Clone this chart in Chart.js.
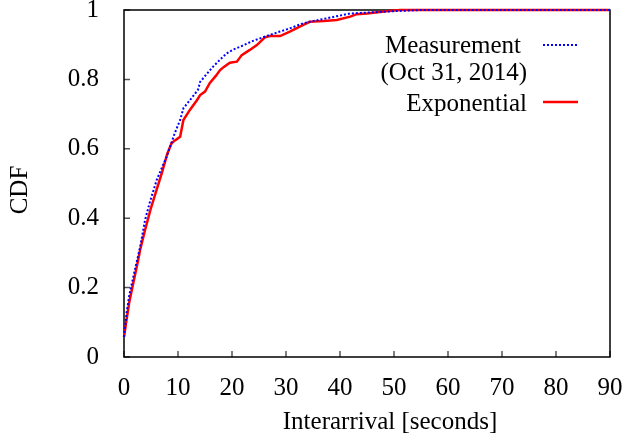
<!DOCTYPE html>
<html>
<head>
<meta charset="utf-8">
<script src="https://cdn.jsdelivr.net/npm/chart.js@4/dist/chart.umd.min.js"></script>
<style>
  html, body { margin: 0; padding: 0; background: #fff; }
  canvas { display: block; }
</style>
</head>
<body>
<canvas id="cdf" width="626" height="439"></canvas>
<script>
// interarrival times (seconds) and CDF values
const measX = [0, 0.5, 1, 2, 3, 3.9, 4.8, 6.05, 7, 7.9, 9.4, 10.4, 11, 12.2, 13.7, 14.1, 15.3, 16.5, 17.8, 19, 20.2, 21.5, 23.9, 26.4, 28.9, 30.7, 33.2, 35, 37.5, 40, 41.9, 45.6, 50.5, 55, 90]
const measY = [0.058, 0.13, 0.18, 0.25, 0.318, 0.395, 0.447, 0.51, 0.545, 0.577, 0.645, 0.683, 0.717, 0.74, 0.77, 0.793, 0.815, 0.837, 0.857, 0.875, 0.886, 0.894, 0.911, 0.925, 0.938, 0.947, 0.962, 0.968, 0.976, 0.984, 0.99, 0.993, 0.997, 1, 1]

const expX = [0, 0.5, 1, 1.7, 2.5, 3, 3.9, 5, 6, 7, 8, 8.8, 9.5, 10.4, 11, 12.2, 13.5, 14.1, 15, 15.9, 17, 17.8, 18.5, 19.6, 20.9, 21.8, 23.3, 24.6, 26.1, 27, 28.9, 30.7, 32, 33.2, 34.4, 37, 39.4, 41.9, 43.1, 45, 47.4, 49, 51.1, 60, 90]
const expY = [0.058, 0.11, 0.16, 0.212, 0.27, 0.31, 0.366, 0.43, 0.48, 0.53, 0.585, 0.616, 0.625, 0.635, 0.683, 0.712, 0.74, 0.755, 0.765, 0.79, 0.81, 0.827, 0.836, 0.848, 0.851, 0.87, 0.885, 0.899, 0.921, 0.925, 0.925, 0.938, 0.948, 0.957, 0.966, 0.968, 0.971, 0.981, 0.988, 0.99, 0.994, 0.997, 1, 1, 1]

const legendLines = ['Measurement', '(Oct 31, 2014)', 'Exponential']
const xTitle = 'Interarrival [seconds]'
const yTitle = 'CDF'

const FONT = 'Liberation Serif'
const toPoints = (xs, ys) => xs.map((x, i) => ({ x, y: ys[i] }))

// gnuplot look: inward ticks on left/bottom, full box, keys and titles
const frame = {
  id: 'frame',
  beforeDatasetsDraw(chart) {
    const { ctx, chartArea: a, scales: { x, y } } = chart
    ctx.save()
    ctx.strokeStyle = '#555'
    ctx.lineWidth = 1.5
    ctx.beginPath()
    x.ticks.forEach(t => {
      const px = x.getPixelForValue(t.value)
      ctx.moveTo(px, a.bottom); ctx.lineTo(px, a.bottom - 6)
    })
    y.ticks.forEach(t => {
      const py = y.getPixelForValue(t.value)
      ctx.moveTo(a.left, py); ctx.lineTo(a.left + 6, py)
    })
    ctx.stroke()
    ctx.strokeStyle = '#000'
    ctx.strokeRect(a.left, a.top, a.right - a.left, a.bottom - a.top)
    ctx.restore()
  },
  afterDraw(chart) {
    const { ctx } = chart
    ctx.save()
    ctx.fillStyle = '#000'
    ctx.font = `25px "${FONT}"`
    ctx.textBaseline = 'alphabetic'
    ctx.textAlign = 'right'
    ctx.fillText(legendLines[0], 521, 53)
    ctx.fillText(legendLines[1], 527, 80)
    ctx.fillText(legendLines[2], 527, 111)

    ctx.lineWidth = 2
    ctx.strokeStyle = '#0000ff'
    ctx.setLineDash([2, 2])
    ctx.beginPath(); ctx.moveTo(543, 45); ctx.lineTo(578, 45); ctx.stroke()
    ctx.setLineDash([])
    ctx.lineWidth = 2.5
    ctx.strokeStyle = '#ff0000'
    ctx.beginPath(); ctx.moveTo(543, 102); ctx.lineTo(578, 102); ctx.stroke()

    ctx.textAlign = 'center'
    ctx.textBaseline = 'middle'
    ctx.fillText(xTitle, 390, 422)
    ctx.translate(20, 190)
    ctx.rotate(-Math.PI / 2)
    ctx.fillText(yTitle, 0, 0)
    ctx.restore()
  }
}

new Chart(document.getElementById('cdf'), {
  type: 'line',
  data: {
    datasets: [
      {
        label: 'Measurement',
        data: toPoints(measX, measY),
        borderColor: '#0000ff',
        borderWidth: 2,
        borderDash: [2, 2],
        pointRadius: 0,
        tension: 0,
        clip: false
      },
      {
        label: 'Exponential',
        data: toPoints(expX, expY),
        borderColor: '#ff0000',
        borderWidth: 2.5,
        pointRadius: 0,
        tension: 0,
        clip: false
      }
    ]
  },
  options: {
    responsive: false,
    animation: false,
    layout: { padding: { top: 10, right: 16, left: 0, bottom: 0 } },
    plugins: { legend: { display: false }, tooltip: { enabled: false } },
    scales: {
      x: {
        type: 'linear',
        min: 0, max: 90,
        grid: { display: false },
        border: { display: false },
        ticks: { stepSize: 10, padding: 8, color: '#000', maxRotation: 0, font: { family: FONT, size: 25 } },
        afterFit(s) { s.height = 82; s.paddingLeft = 0; s.paddingRight = 0 }
      },
      y: {
        min: 0, max: 1,
        grid: { display: false },
        border: { display: false },
        ticks: {
          stepSize: 0.2, padding: 17, color: '#000', font: { family: FONT, size: 25 },
          callback: v => String(Math.round(v * 10) / 10)
        },
        afterFit(s) { s.width = 124; s.paddingTop = 0; s.paddingBottom = 0 }
      }
    }
  },
  plugins: [frame]
})
</script>
</body>
</html>
